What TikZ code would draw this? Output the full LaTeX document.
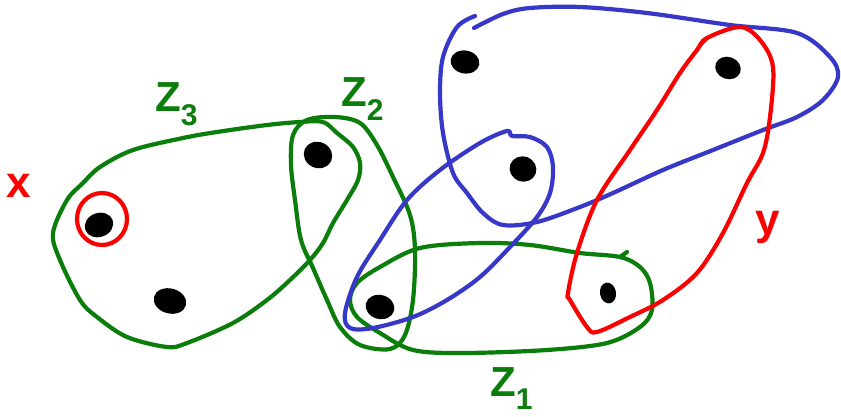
\documentclass[tikz,border=0pt]{standalone}
\usepackage{fontspec}
\setmainfont{Liberation Sans}
\usetikzlibrary{shapes.geometric}
\definecolor{zgreen}{RGB}{10,125,10}
\definecolor{zblue}{RGB}{55,55,200}
\definecolor{zred}{RGB}{250,0,0}
\newcommand{\zsub}[1]{\raisebox{-0.32em}{\fontsize{30}{30}\selectfont\bfseries #1}}
\tikzset{
  dotnode/.style={ellipse, fill=black, inner sep=0pt},
  gedge/.style={draw=zgreen, line width=4.2pt, line join=round, line cap=round},
  bedge/.style={draw=zblue, line width=4.2pt, line join=round, line cap=round},
  redge/.style={draw=zred, line width=4.2pt, line join=round, line cap=round},
  glabel/.style={text=zgreen, font=\fontsize{42}{42}\selectfont\bfseries, inner sep=0pt},
  rlabel/.style={text=zred, font=\fontsize{44}{44}\selectfont\bfseries, inner sep=0pt}
}
\begin{document}
\begin{tikzpicture}[x=1pt,y=-1pt]
\useasboundingbox (0,0) rectangle (841,417);
\fill[white] (0,0) rectangle (841,417);

% hyperedge Z3
\draw[gedge] plot[smooth cycle, tension=0.55] coordinates {
 (67,200) (53,233) (60,260) (80,300) (97,317) (127,337) (167,347) (187,343)
 (233,323) (267,300) (290,280) (310,260) (323,243) (333,223) (347,200)
 (358,180) (360,163) (353,147) (337,133) (323,122) (300,122) (267,125)
 (217,132) (183,138) (133,150) (100,167) (83,183)};

% hyperedge Z2
\draw[gedge] plot[smooth cycle, tension=0.55] coordinates {
 (307,120) (293,135) (291,165) (295,200) (301,240) (313,268) (327,300)
 (340,327) (360,345) (390,349) (405,335) (413,300) (415,250) (410,215)
 (393,177) (377,145) (360,123) (335,117)};

% hyperedge Z1
\draw[gedge] plot[smooth cycle, tension=0.55] coordinates {
 (350,300) (357,283) (380,267) (420,248) (480,243) (530,245) (580,253)
 (620,257) (640,267) (650,283) (652,310) (640,327) (607,343) (547,350)
 (463,353) (413,350) (380,333) (357,317)};
\draw[gedge] (620,257) -- (627,252);

% small blue hyperedge
\draw[bedge] plot[smooth cycle, tension=0.55] coordinates {
 (345,313) (357,277) (380,240) (407,200) (440,170) (480,143) (507,131)
 (512,136) (530,137) (547,147) (553,167) (550,193) (537,217) (510,247)
 (480,277) (447,300) (413,317) (373,328) (350,328)};

% big blue hyperedge
\draw[bedge] plot[smooth, tension=0.55] coordinates {
 (474,28) (503,14) (530,8) (580,7) (647,13) (730,25) (797,33) (830,57)
 (838,77) (823,100) (797,117) (763,130) (713,150) (663,170) (613,193)
 (580,207) (537,222) (503,225) (483,213) (467,193) (453,173) (443,133)
 (440,93) (443,57) (457,27) (475,16)};

% red hyperedge Y
\draw[redge] plot[smooth cycle, tension=0.55] coordinates {
 (707,38) (740,27) (760,40) (773,67) (770,117) (763,153) (747,183)
 (723,233) (697,273) (663,300) (630,317) (597,332) (587,327) (570,300)
 (568,293) (577,253) (597,200) (630,150) (657,110) (680,73) (697,50)};
\draw[redge] (707,38) -- (701,44);

% red circle around x
\draw[redge] (102,219) ellipse [x radius=25, y radius=26];

% vertices
\node[dotnode, minimum width=29pt, minimum height=24pt, rotate=20] (v1) at (99,225) {};
\node[dotnode, minimum width=33pt, minimum height=25pt, rotate=-15] (v2) at (170,301) {};
\node[dotnode, minimum width=29pt, minimum height=26pt, rotate=-25] (v3) at (318,155) {};
\node[dotnode, minimum width=29pt, minimum height=24pt, rotate=-15] (v4) at (380,307) {};
\node[dotnode, minimum width=29pt, minimum height=23pt, rotate=-10] (v5) at (465,62) {};
\node[dotnode, minimum width=27pt, minimum height=25pt, rotate=-20] (v6) at (523,169) {};
\node[dotnode, minimum width=26pt, minimum height=22pt, rotate=-20] (v7) at (728,68) {};
\node[dotnode, minimum width=16pt, minimum height=21pt, rotate=10] (v8) at (608,293) {};

% labels
\node[rlabel] (lx) at (19,186) {x};
\node[rlabel] (ly) at (768,227) {y};
\node[glabel, anchor=base west] (lz3) at (155,112) {Z\zsub{3}};
\node[glabel, anchor=base west] (lz2) at (341,107) {Z\zsub{2}};
\node[glabel, anchor=base west] (lz1) at (490,396) {Z\zsub{1}};
\end{tikzpicture}
\end{document}
